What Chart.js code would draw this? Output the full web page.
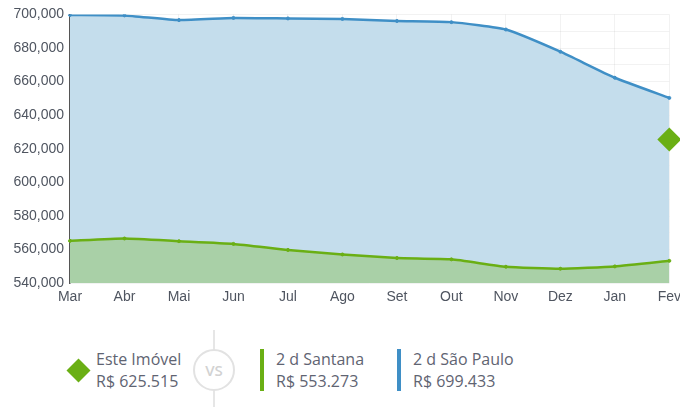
<!DOCTYPE html>
<html>
<head>
<meta charset="utf-8">
<script src="https://cdn.jsdelivr.net/npm/chart.js@4.4.1/dist/chart.umd.min.js"></script>
<style>
  html, body { margin: 0; padding: 0; background: #fff; overflow: hidden; }
  body { width: 680px; height: 407px; position: relative; font-family: "Open Sans", "Lato", sans-serif; }
  #wrap { position: absolute; left: 0; top: 0; width: 687px; height: 312px; }
  .leg { position: absolute; color: #5f6472; font-size: 16px; line-height: 22px; font-weight: 400; }
  .bar { position: absolute; width: 4px; height: 42px; top: 349px; }
  .vsline { position: absolute; left: 213px; top: 330px; width: 2px; height: 77px; background: #e6e6e6; }
  .vs { position: absolute; left: 193px; top: 349px; width: 38px; height: 38px; border: 2px solid #e2e2e2; border-radius: 50%; background: #fff; color: #d2d2d2; font-size: 15px; text-align: center; line-height: 38px; font-weight: 600; }
  .dia { position: absolute; left: 70px; top: 362px; width: 17px; height: 17px; background: #6aaf14; transform: rotate(45deg); }
</style>
</head>
<body>
<div id="wrap"><canvas id="chart"></canvas></div>
<div class="dia"></div>
<div class="leg" id="l0" style="left:96px; top:348px;"></div>
<div class="vsline"></div>
<div class="vs">VS</div>
<div class="bar" style="left:260px; background:#6aaf14;"></div>
<div class="leg" id="l1" style="left:276px; top:348px;"></div>
<div class="bar" style="left:397px; background:#3f8fc6;"></div>
<div class="leg" id="l2" style="left:413px; top:348px;"></div>
<script>
const months = ['Mar','Abr','Mai','Jun','Jul','Ago','Set','Out','Nov','Dez','Jan','Fev']
const saoPaulo = [699700, 699400, 696600, 697900, 697600, 697300, 696100, 695400, 691000, 677800, 662300, 650300]
const santana = [565200, 566600, 565000, 563400, 559800, 557100, 555000, 554200, 549800, 548600, 550000, 553300]
const imovel = [null, null, null, null, null, null, null, null, null, null, null, 625515]
const legendNames = ['Este Imóvel', '2 d Santana', '2 d São Paulo']
const legendValues = ['R$ 625.515', 'R$ 553.273', 'R$ 699.433']

legendNames.forEach((n, i) => {
    document.getElementById('l' + i).innerHTML = n + '<br>' + legendValues[i]
})

const tickFont = { family: '"Liberation Sans", Arial, sans-serif', size: 14 }

new Chart(document.getElementById('chart'), {
    type: 'line',
    data: {
        labels: months,
        datasets: [
            {
                label: 'Este Imóvel',
                data: imovel,
                showLine: false,
                pointStyle: 'rectRot',
                pointRadius: 12,
                backgroundColor: '#6aaf14',
                borderColor: '#6aaf14',
                borderWidth: 0,
                clip: false,
            },
            {
                label: '2 d Santana',
                data: santana,
                borderColor: '#6aaf14',
                backgroundColor: '#a9d0a7',
                fill: 'start',
                borderWidth: 2.5,
                pointRadius: 1.5,
                pointBorderWidth: 1,
                pointBackgroundColor: '#6aaf14',
                tension: 0.15,
            },
            {
                label: '2 d São Paulo',
                data: saoPaulo,
                borderColor: '#3f8fc6',
                backgroundColor: '#c4ddec',
                fill: 'start',
                borderWidth: 2.5,
                pointRadius: 1.5,
                pointBorderWidth: 1,
                pointBackgroundColor: '#3f8fc6',
                tension: 0.15,
            }
        ]
    },
    options: {
        responsive: true,
        maintainAspectRatio: false,
        animation: false,
        layout: { padding: { top: 8, left: 0, right: 0 } },
        plugins: {
            legend: { display: false },
            tooltip: { enabled: false }
        },
        scales: {
            x: {
                grid: { color: 'rgba(0,0,0,0.05)', drawTicks: false },
                border: { display: false },
                ticks: { color: '#4f5560', font: tickFont, padding: 6, maxRotation: 0, autoSkip: false }
            },
            y: {
                min: 540000,
                max: 700000,
                afterFit: s => { s.width = 70 },
                grid: { color: 'rgba(0,0,0,0.05)', drawTicks: false },
                border: { color: '#555', width: 1.5 },
                ticks: {
                    stepSize: 10000,
                    color: '#4f5560',
                    font: tickFont,
                    padding: 6,
                    autoSkip: false,
                    callback: v => v % 20000 === 0 ? v.toLocaleString('en-US') : ''
                }
            }
        }
    }
})
</script>
</body>
</html>
